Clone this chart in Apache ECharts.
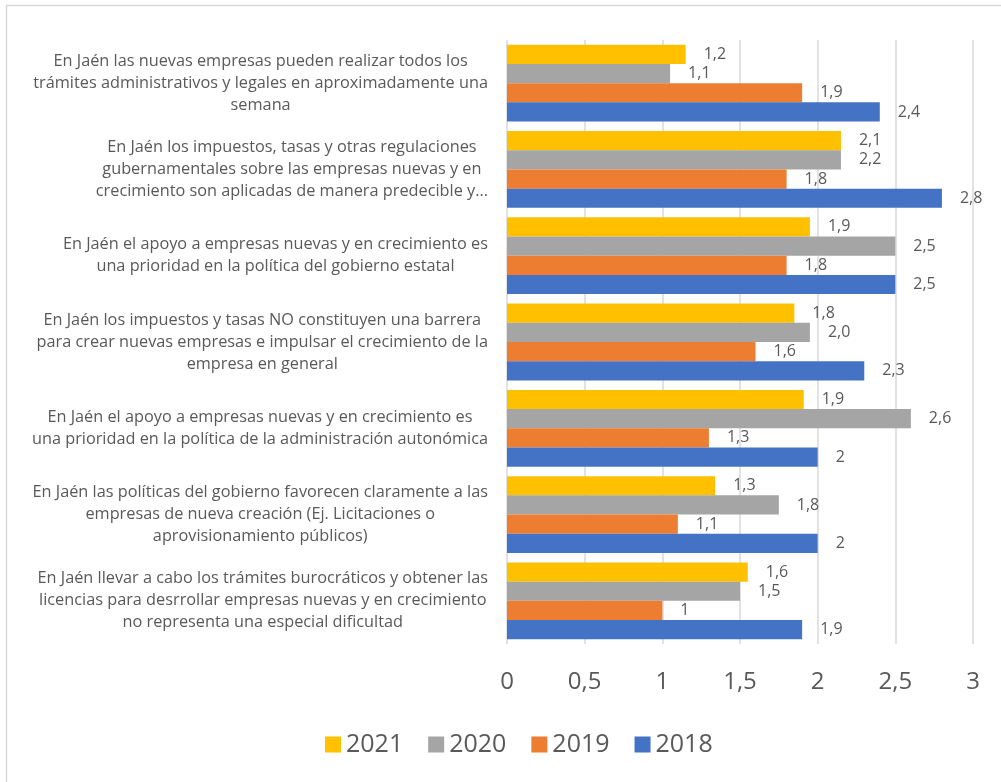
<!DOCTYPE html>
<html>
<head>
<meta charset="utf-8">
<script src="https://cdn.jsdelivr.net/npm/echarts@6/dist/echarts.min.js"></script>
<style>
    html, body { margin: 0; padding: 0; background: #fff; }
    #echarts-main { width: 1001px; height: 782px; }
</style>
</head>
<body>
<div id="echarts-main"></div>
<script>
    // datos
    const years = ['2021', '2020', '2019', '2018']
    const categories = [
        'En Jaén las nuevas empresas pueden realizar todos los\ntrámites administrativos y legales en aproximadamente una\nsemana',
        'En Jaén los impuestos, tasas y otras regulaciones\ngubernamentales sobre las empresas nuevas y en\ncrecimiento son aplicadas de manera predecible y...',
        'En Jaén el apoyo a empresas nuevas y en crecimiento es\nuna prioridad en la política del gobierno estatal',
        'En Jaén los impuestos y tasas NO constituyen una barrera\npara crear nuevas empresas e impulsar el crecimiento de la\nempresa en general',
        'En Jaén el apoyo a empresas nuevas y en crecimiento es\nuna prioridad en la política de la administración autonómica',
        'En Jaén las políticas del gobierno favorecen claramente a las\nempresas de nueva creación (Ej. Licitaciones o\naprovisionamiento públicos)',
        'En Jaén llevar a cabo los trámites burocráticos y obtener las\nlicencias para desrrollar empresas nuevas y en crecimiento\nno representa una especial dificultad'
    ]
    const values2021 = [1.15, 2.15, 1.95, 1.85, 1.91, 1.34, 1.55]
    const values2020 = [1.05, 2.15, 2.5, 1.95, 2.6, 1.75, 1.5]
    const values2019 = [1.9, 1.8, 1.8, 1.6, 1.3, 1.1, 1.0]
    const values2018 = [2.4, 2.8, 2.5, 2.3, 2.0, 2.0, 1.9]
    const labels2021 = ['1,2', '2,1', '1,9', '1,8', '1,9', '1,3', '1,6']
    const labels2020 = ['1,1', '2,2', '2,5', '2,0', '2,6', '1,8', '1,5']
    const labels2019 = ['1,9', '1,8', '1,8', '1,6', '1,3', '1,1', '1']
    const labels2018 = ['2,4', '2,8', '2,5', '2,3', '2', '2', '1,9']
    const colors = ['#FFC000', '#A5A5A5', '#ED7D31', '#4472C4']

    const textColor = '#595959'
    const font = "'Open Sans', 'Noto Sans', sans-serif"

    const seriesValues = [values2021, values2020, values2019, values2018]
    const seriesLabels = [labels2021, labels2020, labels2019, labels2018]

    const bar_series = []
    for (let i = 0; i < years.length; i++) {
        bar_series.push({
            name: years[i],
            type: 'bar',
            data: seriesValues[i],
            barGap: '0%',
            barCategoryGap: '11%',
            itemStyle: { color: colors[i] },
            label: {
                show: true,
                position: 'right',
                distance: 18,
                color: textColor,
                fontSize: 16,
                fontFamily: font,
                formatter: (p) => seriesLabels[i][p.dataIndex]
            }
        })
    }

    let chartDom = document.getElementById('echarts-main')
    let myChart = echarts.init(chartDom)

    const option = {
        animation: false,
        color: colors,
        grid: {
            left: 507,
            right: 28,
            top: 40,
            bottom: 138
        },
        legend: {
            data: years,
            left: 320,
            top: 727,
            itemWidth: 16,
            itemHeight: 16,
            itemGap: 25,
            icon: 'rect',
            textStyle: { color: textColor, fontSize: 25, fontFamily: font }
        },
        xAxis: {
            type: 'value',
            min: 0,
            max: 3,
            interval: 0.5,
            axisLine: { show: false },
            axisTick: { show: false },
            splitLine: { lineStyle: { color: '#D9D9D9', width: 1.5 } },
            axisLabel: {
                color: textColor,
                fontSize: 24,
                fontFamily: font,
                margin: 26,
                formatter: (v) => String(v).replace('.', ',')
            }
        },
        yAxis: {
            type: 'category',
            inverse: true,
            data: categories,
            axisLine: { show: false },
            axisTick: { show: false },
            axisLabel: {
                align: 'right',
                margin: 19,
                formatter: (v) => '{c|' + v + '}',
                rich: {
                    c: {
                        align: 'center',
                        color: textColor,
                        fontSize: 16.3,
                        lineHeight: 22,
                        fontFamily: font
                    }
                }
            }
        },
        graphic: [
            { type: 'line', shape: { x1: 6, y1: 5.5, x2: 1001, y2: 5.5 }, style: { stroke: '#D9D9D9', lineWidth: 1.5 } },
            { type: 'line', shape: { x1: 6.5, y1: 5, x2: 6.5, y2: 782 }, style: { stroke: '#D9D9D9', lineWidth: 1.5 } }
        ],
        series: bar_series
    }

    myChart.setOption(option)
</script>
</body>
</html>
